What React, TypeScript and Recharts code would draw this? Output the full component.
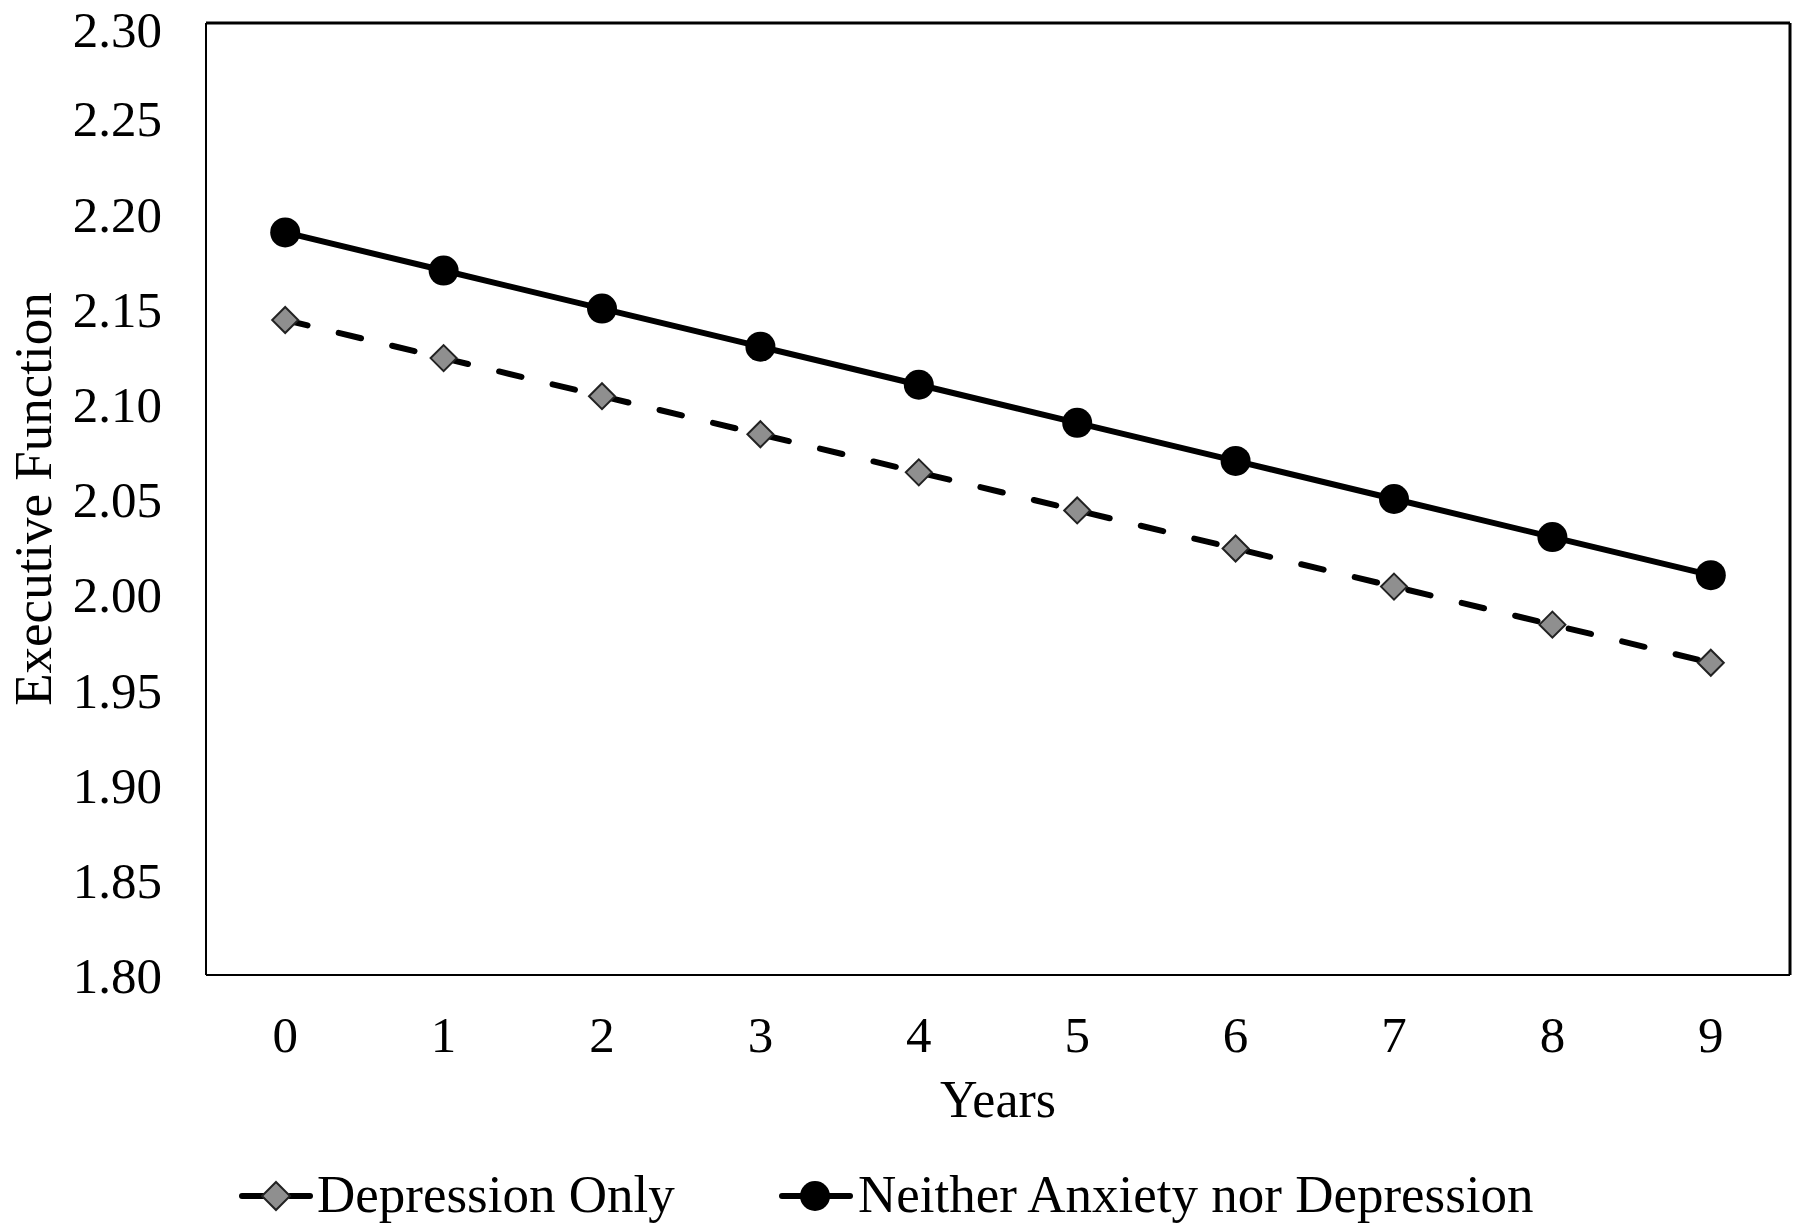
import React from 'react';
import { LineChart, Line, XAxis, YAxis, Legend } from 'recharts';

const years = [0, 1, 2, 3, 4, 5, 6, 7, 8, 9];
const depressionOnly = [2.144, 2.124, 2.104, 2.084, 2.064, 2.044, 2.024, 2.004, 1.984, 1.964];
const neither = [2.19, 2.17, 2.15, 2.13, 2.11, 2.09, 2.07, 2.05, 2.03, 2.01];
const yTicks = [1.8, 1.85, 1.9, 1.95, 2.0, 2.05, 2.1, 2.15, 2.2, 2.25, 2.3];

const data = years.map((y, i) => ({ year: y, depression: depressionOnly[i], neither: neither[i] }));

const FONT = '"Liberation Serif", "Times New Roman", serif';

// grey diamond used for the Depression Only series
const Diamond = (props: any) => {
  const { cx, cy, index } = props;
  const r = 13;
  return (
    <polygon
      key={`d-${index}`}
      points={`${cx},${cy - r} ${cx + r},${cy} ${cx},${cy + r} ${cx - r},${cy}`}
      fill="#8f8f8f"
      stroke="#222"
      strokeWidth={2}
    />
  );
};

const YLabel = () => (
  <text
    x={33}
    y={499}
    transform="rotate(-90 33 499)"
    textAnchor="middle"
    dominantBaseline="central"
    fontFamily={FONT}
    fontSize={53}
    fill="#000"
  >
    Executive Function
  </text>
);

const XLabel = () => (
  <text x={998} y={1117} textAnchor="middle" fontFamily={FONT} fontSize={52} fill="#000">
    Years
  </text>
);

const LegendContent = () => (
  <svg width={1800} height={80} style={{ display: 'block' }}>
    {/* Depression Only */}
    <line x1={242} y1={36} x2={266} y2={36} stroke="#000" strokeWidth={6} strokeLinecap="round" />
    <line x1={290} y1={36} x2={310} y2={36} stroke="#000" strokeWidth={6} strokeLinecap="round" />
    <polygon points="276,22 290,36 276,50 262,36" fill="#8f8f8f" stroke="#222" strokeWidth={2} />
    <text x={317} y={52} fontFamily={FONT} fontSize={53} fill="#000">Depression Only</text>
    {/* Neither */}
    <line x1={782} y1={36} x2={850} y2={36} stroke="#000" strokeWidth={6} strokeLinecap="round" />
    <circle cx={815} cy={36} r={15} fill="#000" />
    <text x={858} y={52} fontFamily={FONT} fontSize={53} fill="#000">Neither Anxiety nor Depression</text>
  </svg>
);

export default function App() {
  return (
    <div style={{ width: 1800, height: 1231, background: '#fff' }}>
      <style>{`body{margin:0}`}</style>
      <LineChart width={1800} height={1231} data={data} margin={{ top: 22, right: 9, left: 0, bottom: 76 }}>
        <XAxis
          dataKey="year"
          type="number"
          domain={[-0.5, 9.5]}
          ticks={years}
          allowDataOverflow
          axisLine={{ stroke: '#000', strokeWidth: 2 }}
          tickLine={false}
          tickSize={0}
          tickMargin={41}
          tick={{ fontFamily: FONT, fontSize: 51, fill: '#000' }}
          height={100}
          label={<XLabel />}
        />
        <XAxis
          xAxisId="top"
          orientation="top"
          dataKey="year"
          type="number"
          domain={[-0.5, 9.5]}
          axisLine={{ stroke: '#000', strokeWidth: 3 }}
          tick={false}
          tickLine={false}
          height={1}
        />
        <YAxis
          domain={[1.8, 2.3]}
          ticks={yTicks}
          allowDataOverflow
          width={206}
          axisLine={{ stroke: '#000', strokeWidth: 2 }}
          tickLine={false}
          tickSize={0}
          tickMargin={44}
          tickFormatter={(v: number) => v.toFixed(2)}
          tick={{ fontFamily: FONT, fontSize: 51, fill: '#000' }}
          label={<YLabel />}
        />
        <YAxis
          yAxisId="right"
          orientation="right"
          domain={[1.8, 2.3]}
          width={1}
          axisLine={{ stroke: '#000', strokeWidth: 3 }}
          tick={false}
          tickLine={false}
        />
        <Legend
          verticalAlign="bottom"
          content={<LegendContent />}
          wrapperStyle={{ left: 0, top: 1160, width: 1800, height: 80, bottom: 'auto' }}
        />
        <Line
          dataKey="depression"
          name="Depression Only"
          stroke="#000"
          strokeWidth={6}
          strokeDasharray="23 32"
          strokeLinecap="round"
          dot={<Diamond />}
          isAnimationActive={false}
        />
        <Line
          dataKey="neither"
          name="Neither Anxiety nor Depression"
          stroke="#000"
          strokeWidth={6}
          dot={{ r: 15, fill: '#000', stroke: '#000', strokeWidth: 0 }}
          isAnimationActive={false}
        />
      </LineChart>
    </div>
  );
}
